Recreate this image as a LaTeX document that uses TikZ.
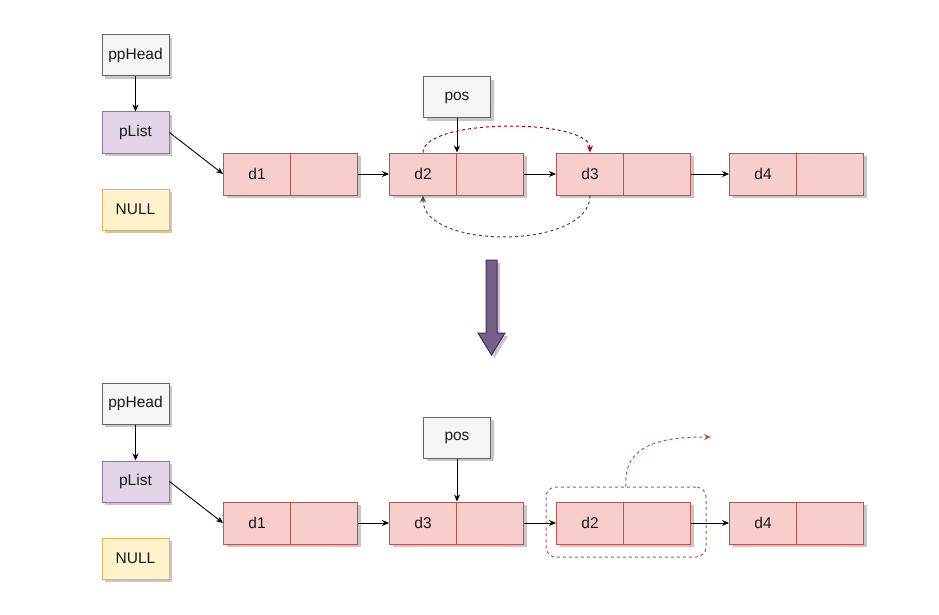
\documentclass[tikz,border=0pt]{standalone}
\usepackage{fontspec}
\setmainfont{Liberation Sans}
\usetikzlibrary{arrows.meta,shadows}
\definecolor{grayF}{HTML}{F5F5F5}
\definecolor{grayS}{HTML}{666666}
\definecolor{purF}{HTML}{E1D5E7}
\definecolor{purS}{HTML}{9673A6}
\definecolor{yelF}{HTML}{FFF2CC}
\definecolor{yelS}{HTML}{D6B656}
\definecolor{redF}{HTML}{F8CECC}
\definecolor{redS}{HTML}{B85450}
\definecolor{darkred}{HTML}{B20000}
\definecolor{dkgreen}{HTML}{3A5431}
\definecolor{arrF}{HTML}{76608A}
\definecolor{arrS}{HTML}{432D57}
\definecolor{txt}{HTML}{1A1A1A}
\tikzset{
  shad/.style={drop shadow={shadow xshift=3pt,shadow yshift=-3pt,fill=black,opacity=0.22}},
  box/.style={draw, line width=1pt, minimum width=67pt, minimum height=41pt, inner sep=0pt,
    font=\fontsize{15.5}{18}\selectfont, text=txt, shad},
  headbox/.style={box, fill=grayF, draw=grayS},
  listbox/.style={box, fill=purF, draw=purS},
  nullbox/.style={box, fill=yelF, draw=yelS},
  cell/.style={box, fill=redF, draw=redS, minimum height=42pt},
  conn/.style={-{Stealth[length=7pt,width=6pt]}, line width=0.9pt, black},
  dashconn/.style={-{Stealth[length=7pt,width=6pt]}, line width=1pt, dash pattern=on 3pt off 3pt}
}
\begin{document}
\begin{tikzpicture}[x=1pt,y=-1pt]
\fill[white] (0,0) rectangle (939,615);
\useasboundingbox (0,0) rectangle (939,615);

% ---------- top ----------
\node[headbox] (hA) at (135.5,55.5) {ppHead};
\node[listbox] (lA) at (135.5,132.5) {pList};
\node[nullbox] (nA) at (135.5,209.5) {NULL};
\node[headbox] (posA) at (457,97.5) {pos};

\node[cell] (a1) at (257,174) {d1};
\node[cell] (a1p) at (324,174) {};
\node[cell] (a2) at (423,174) {d2};
\node[cell] (a2p) at (490,174) {};
\node[cell] (a3) at (590,174) {d3};
\node[cell] (a3p) at (657,174) {};
\node[cell] (a4) at (763,174) {d4};
\node[cell] (a4p) at (830,174) {};

\draw[conn] (hA.south) -- (lA.north);
\draw[conn] (lA.east) -- (a1.west);
\draw[conn] (a1p.east) -- (a2.west);
\draw[conn] (a2p.east) -- (a3.west);
\draw[conn] (a3p.east) -- (a4.west);
\draw[conn] (posA.south) -- (a2.north east);
\draw[dashconn, darkred] (a2.north) .. controls (423,118) and (590,118) .. (a3.north);
\draw[dashconn, dkgreen] (a3.south) .. controls (590,250) and (423,250) .. (a2.south);

% big arrow
\draw[fill=arrF, draw=arrS, line width=1pt, shad]
  (486,260) -- (497,260) -- (497,333) -- (505,333) -- (491.5,355) -- (478,333) -- (486,333) -- cycle;

% ---------- bottom ----------
\node[headbox] (hB) at (135.5,403.5) {ppHead};
\node[listbox] (lB) at (135.5,481.5) {pList};
\node[nullbox] (nB) at (135.5,558.5) {NULL};
\node[headbox] (posB) at (457,437.5) {pos};

\node[draw=redS, dash pattern=on 3pt off 3pt, line width=1pt, rounded corners=10pt,
  minimum width=160pt, minimum height=70pt] (grp) at (626,522) {};

\node[cell] (b1) at (257,523) {d1};
\node[cell] (b1p) at (324,523) {};
\node[cell] (b3) at (423,523) {d3};
\node[cell] (b3p) at (490,523) {};
\node[cell] (b2) at (590,523) {d2};
\node[cell] (b2p) at (657,523) {};
\node[cell] (b4) at (763,523) {d4};
\node[cell] (b4p) at (830,523) {};

\coordinate (away) at (711,437);

\draw[conn] (hB.south) -- (lB.north);
\draw[conn] (lB.east) -- (b1.west);
\draw[conn] (b1p.east) -- (b3.west);
\draw[conn] (b3p.east) -- (b2.west);
\draw[conn] (b2p.east) -- (b4.west);
\draw[conn] (posB.south) -- (b3.north east);
\draw[dashconn, redS] (grp.north) .. controls (623,445) and (660,437) .. (away);
\end{tikzpicture}
\end{document}
